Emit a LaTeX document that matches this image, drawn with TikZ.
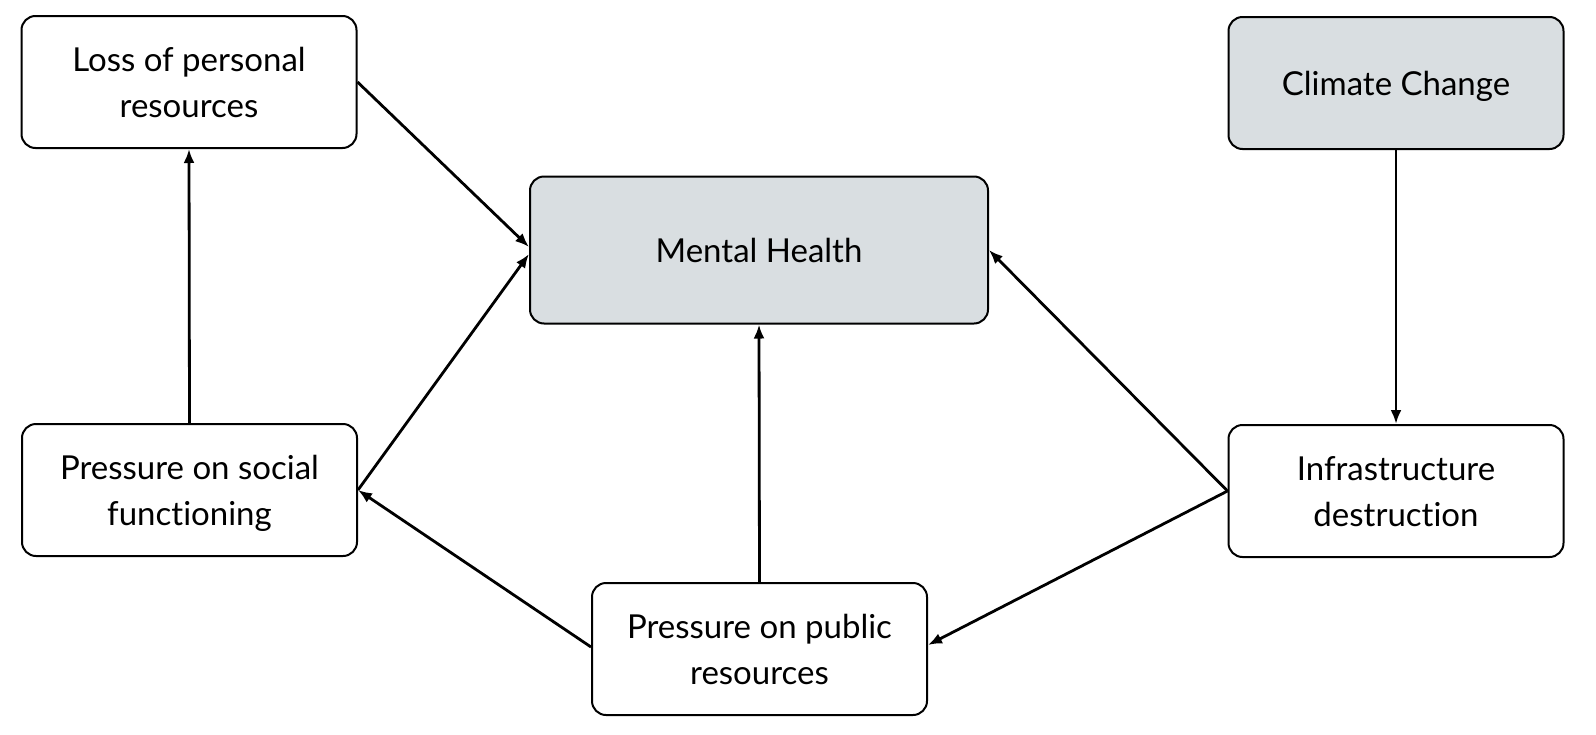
\documentclass[tikz,border=0pt]{standalone}
\usepackage{fontspec}
\setmainfont{Lato}[Ligatures=NoCommon]
\usetikzlibrary{arrows.meta}
\definecolor{boxgray}{RGB}{217,222,225}
\tikzset{
    box/.style={draw, line width=1pt, rounded corners=7pt, align=center,
        minimum width=167.5pt, minimum height=66pt, inner sep=2pt, text depth=0pt,
        font=\fontsize{16.5}{23}\selectfont},
    mainbox/.style={box, fill=boxgray},
    link/.style={-{Latex[length=7pt,width=5.5pt]}, line width=1.4pt}
}
\begin{document}
\begin{tikzpicture}[x=0.5pt, y=0.5pt]
    \useasboundingbox (0,0) rectangle (1596,-734);
    % top row
    \node[box] (loss) at (189,-82) {Loss of personal\\resources};
    \node[mainbox] (climate) at (1396,-83) {Climate Change};
    % middle
    \node[mainbox, minimum width=229pt, minimum height=73.5pt] (mental) at (759,-250) {Mental Health};
    % lower rows
    \node[box] (social) at (189.5,-490) {Pressure on social\\functioning};
    \node[box] (infra) at (1396,-491) {Infrastructure\\destruction};
    \node[box] (public) at (759.5,-649) {Pressure on public\\resources};
    % arrows
    \draw[link] (loss.east) -- ([yshift=1.5pt]mental.west);
    \draw[link] (social.east) -- ([yshift=-2pt]mental.west);
    \draw[link] (social.north) -- (loss.south);
    \draw[link] (climate.south) -- (infra.north);
    \draw[link] (infra.west) -- (mental.east);
    \draw[link] (infra.west) -- ([yshift=2pt]public.east);
    \draw[link] ([yshift=1pt]public.west) -- (social.east);
    \draw[link] (public.north) -- (mental.south);
\end{tikzpicture}
\end{document}
